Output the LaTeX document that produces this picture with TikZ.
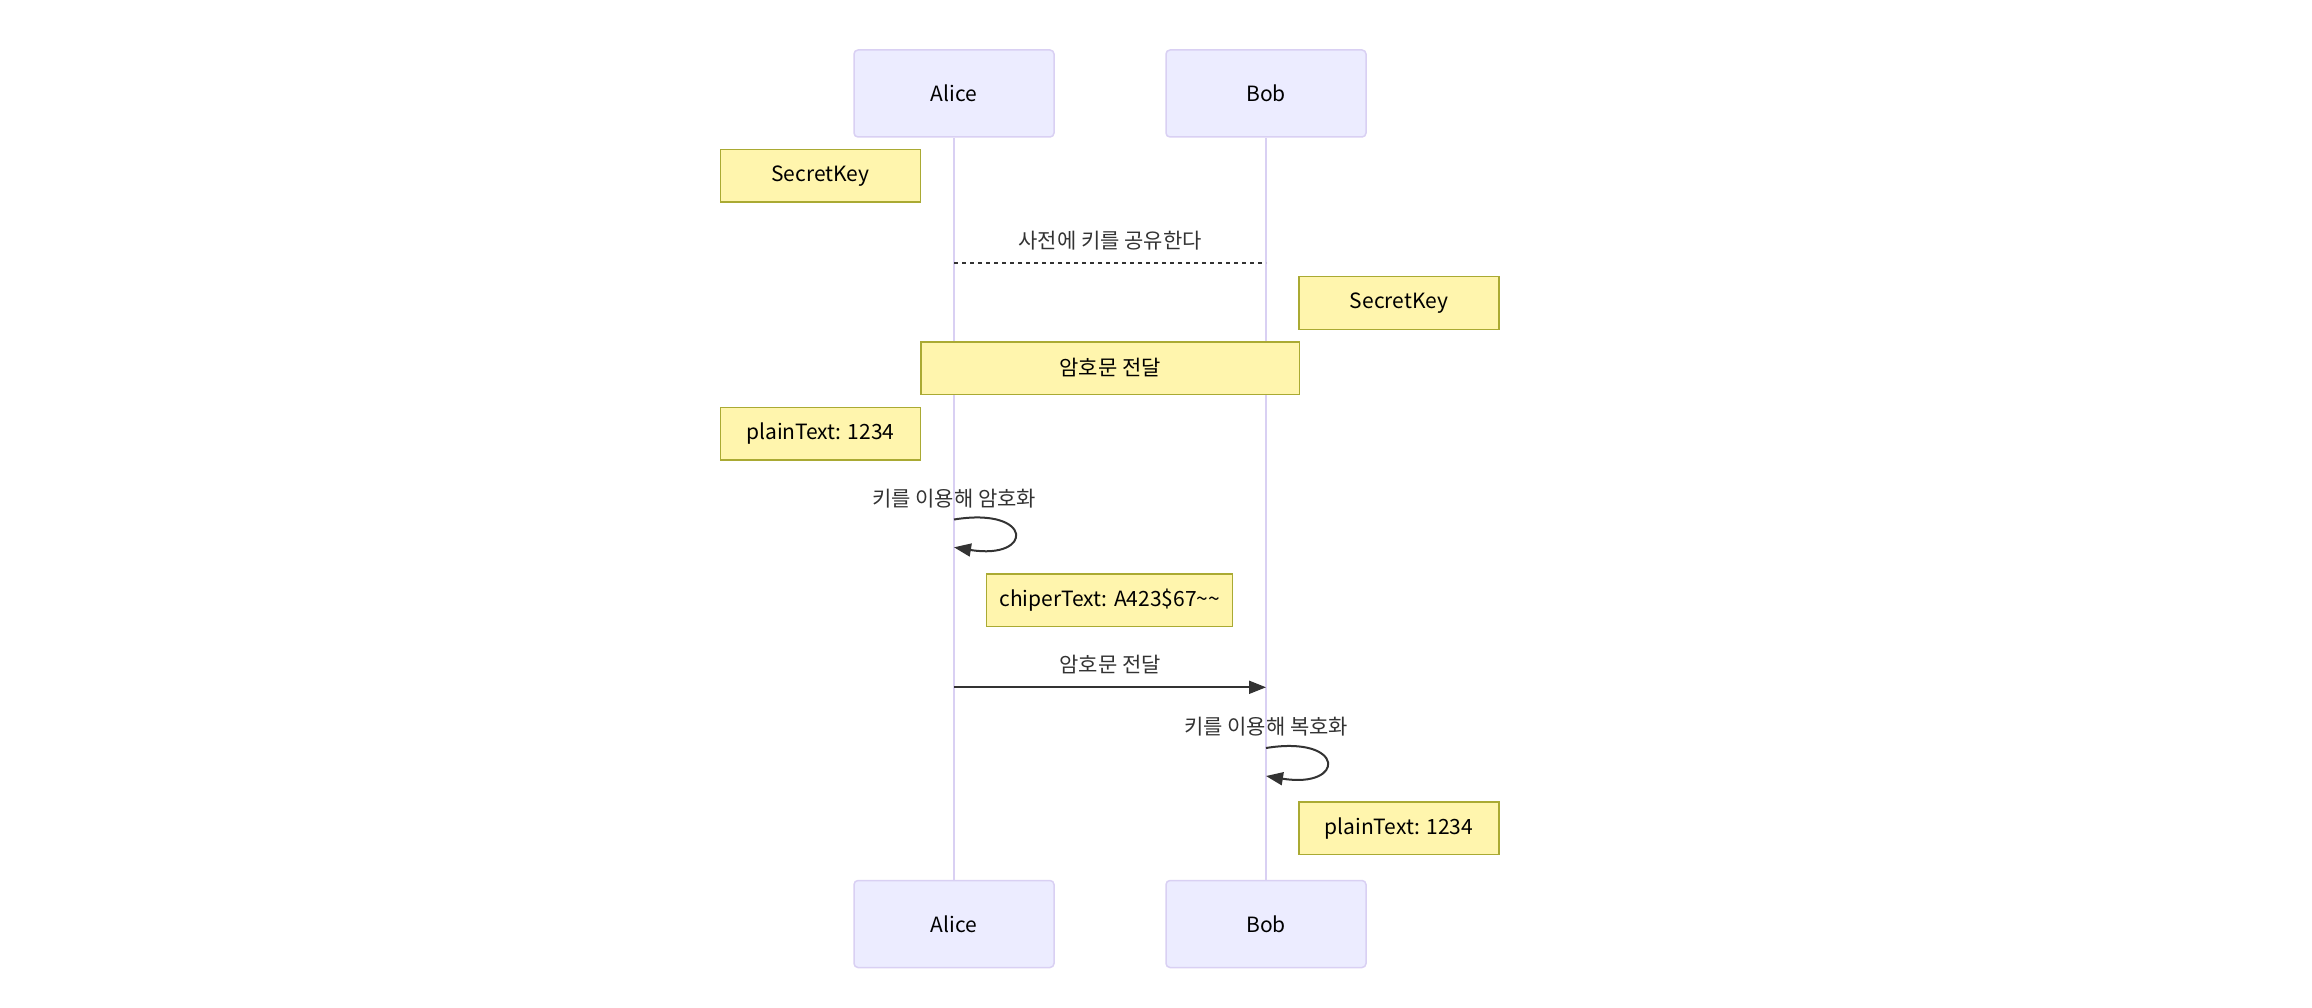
\documentclass[tikz,border=0pt]{standalone}
\usepackage{fontspec}
\setmainfont{Noto Sans CJK KR}
\usetikzlibrary{arrows.meta}
\definecolor{actfill}{HTML}{ECECFF}
\definecolor{actline}{HTML}{D9D0F3}
\definecolor{notefill}{HTML}{FFF5AD}
\definecolor{noteline}{HTML}{AAAA33}
\definecolor{msgline}{HTML}{333333}
\newcommand{\txt}{\fontsize{21}{25}\selectfont}
\begin{document}
\begin{tikzpicture}[x=1pt,y=-1pt,
  actor/.style={rectangle,rounded corners=4pt,draw=actline,fill=actfill,line width=1.5pt,minimum width=200pt,minimum height=87pt,font=\txt},
  note/.style={rectangle,draw=noteline,fill=notefill,line width=1.5pt,minimum width=200pt,minimum height=52.5pt,font=\txt},
  msg/.style={text=msgline,font=\txt},
  life/.style={draw=actline,line width=2pt},
  call/.style={draw=msgline,line width=2pt,-{Triangle[length=17pt,width=13pt]}},
  share/.style={draw=msgline,line width=2pt,dash pattern=on 4pt off 4pt}]
\useasboundingbox (0,0) rectangle (2312,1008);
\node [actor] (alice) at (954,93.5) {Alice};
\node [actor] (bob) at (1266,93.5) {Bob};
\node [actor] (alice2) at (954,924) {Alice};
\node [actor] (bob2) at (1266,924) {Bob};
\draw [life] (alice) -- (alice2);
\draw [life] (bob) -- (bob2);
\node [note] (keyA) at (820.5,176) {SecretKey};
\node [msg] (shareL) at (1110,241) {사전에 키를 공유한다};
\coordinate (a1) at (954,263.3);
\coordinate (b1) at (1266,263.3);
\draw [share] (a1) -- (b1);
\node [note] (keyB) at (1399,303) {SecretKey};
\node [note,minimum width=378.5pt] (over) at (1110,368) {암호문 전달};
\node [note] (plainA) at (820.5,433.7) {plainText: 1234};
\node [msg] (encL) at (954,499) {키를 이용해 암호화};
\coordinate (a2) at (954,519.5);
\coordinate (a3) at (954,547.3);
\draw [call] (a2) .. controls +(80,-13) and +(80,13) .. (a3);
\node [note,minimum width=246pt] (chiper) at (1109.7,600.3) {chiperText: A423\$67\textasciitilde\textasciitilde};
\node [msg] (sendL) at (1110,665) {암호문 전달};
\coordinate (a4) at (954,687.3);
\coordinate (b4) at (1266,687.3);
\draw [call] (a4) -- (b4);
\node [msg] (decL) at (1266,726.7) {키를 이용해 복호화};
\coordinate (b2) at (1266,748);
\coordinate (b3) at (1266,776);
\draw [call] (b2) .. controls +(80,-13) and +(80,13) .. (b3);
\node [note] (plainB) at (1399,828.2) {plainText: 1234};
\end{tikzpicture}
\end{document}
